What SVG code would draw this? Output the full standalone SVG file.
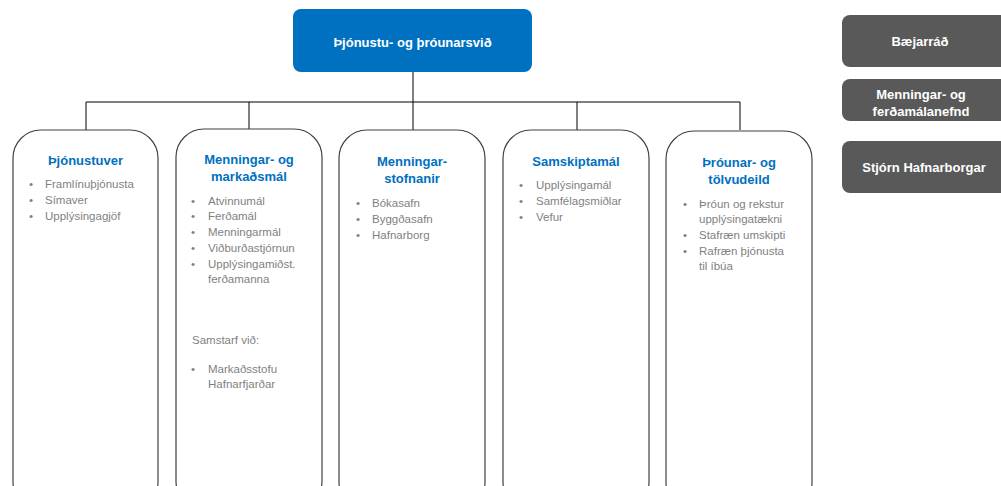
<svg xmlns="http://www.w3.org/2000/svg" width="1001" height="486" viewBox="0 0 1001 486">
<style>
.unit{fill:#fff;stroke:#404040;stroke-width:1.2}
.title{font-family:"Liberation Sans",Arial,sans-serif;font-weight:bold;font-size:13px;fill:#0070C0;text-anchor:middle}
.item{font-family:"Liberation Sans",Arial,sans-serif;font-size:11.5px;fill:#7f7f7f}
.side{fill:#595959}
.wt{font-family:"Liberation Sans",Arial,sans-serif;font-weight:bold;font-size:13px;fill:#fff;text-anchor:middle}
.conn{stroke:#000;stroke-width:1;fill:none}
</style>
<rect width="1001" height="486" fill="#fff"/>
<g id="connectors">
<path class="conn" d="M413 72V102M86 102H740M86 102V130M249 102V129M413 102V130M577 102V130M740 102V130"/>
</g>
<g id="top">
<rect x="293" y="9" width="239" height="63" rx="8" fill="#0070C0"/>
<text class="wt" x="412.5" y="47" font-size="14.5">Þjónustu-  og þróunarsvið</text>
</g>
<g id="u1">
<rect class="unit" x="13" y="130" width="145" height="380" rx="28"/>
<text class="title" x="85.5" y="165">Þjónustuver</text>
<g class="item"><text x="29" y="188">•</text><text x="45" y="188">Framlínuþjónusta</text>
<text x="29" y="204">•</text><text x="45" y="204">Símaver</text>
<text x="29" y="220">•</text><text x="45" y="220">Upplýsingagjöf</text></g>
</g>
<g id="u2">
<rect class="unit" x="176" y="129" width="146" height="380" rx="28"/>
<text class="title" x="249" y="164">Menningar- og</text>
<text class="title" x="249" y="181">markaðsmál</text>
<g class="item"><text x="191" y="205">•</text><text x="208" y="205">Atvinnumál</text>
<text x="191" y="220">•</text><text x="208" y="220">Ferðamál</text>
<text x="191" y="236">•</text><text x="208" y="236">Menningarmál</text>
<text x="191" y="252">•</text><text x="208" y="252">Viðburðastjórnun</text>
<text x="191" y="268">•</text><text x="208" y="268">Upplýsingamiðst.</text>
<text x="208" y="283">ferðamanna</text>
<text x="192" y="344">Samstarf við:</text>
<text x="191" y="373">•</text><text x="208" y="373">Markaðsstofu</text>
<text x="208" y="388">Hafnarfjarðar</text></g>
</g>
<g id="u3">
<rect class="unit" x="339" y="130" width="146" height="380" rx="28"/>
<text class="title" x="412" y="166">Menningar-</text>
<text class="title" x="412" y="183">stofnanir</text>
<g class="item"><text x="356" y="207">•</text><text x="372" y="207">Bókasafn</text>
<text x="356" y="223">•</text><text x="372" y="223">Byggðasafn</text>
<text x="356" y="239">•</text><text x="372" y="239">Hafnarborg</text></g>
</g>
<g id="u4">
<rect class="unit" x="503" y="130" width="146" height="380" rx="28"/>
<text class="title" x="576" y="166">Samskiptamál</text>
<g class="item"><text x="519" y="189">•</text><text x="536" y="189">Upplýsingamál</text>
<text x="519" y="205">•</text><text x="536" y="205">Samfélagsmiðlar</text>
<text x="519" y="221">•</text><text x="536" y="221">Vefur</text></g>
</g>
<g id="u5">
<rect class="unit" x="666" y="131" width="146" height="380" rx="28"/>
<text class="title" x="739" y="167">Þróunar- og</text>
<text class="title" x="739" y="184">tölvudeild</text>
<g class="item"><text x="683" y="208">•</text><text x="699" y="208">Þróun og rekstur</text>
<text x="699" y="223">upplýsingatækni</text>
<text x="683" y="239">•</text><text x="699" y="239">Stafræn umskipti</text>
<text x="683" y="255">•</text><text x="699" y="255">Rafræn þjónusta</text>
<text x="699" y="270">til íbúa</text></g>
</g>
<g id="s1">
<rect class="side" x="842" y="15" width="170" height="52" rx="8"/>
<text class="wt" x="920" y="46">Bæjarráð</text>
</g>
<g id="s2">
<rect class="side" x="842" y="79" width="170" height="42" rx="8"/>
<text class="wt" x="921" y="99">Menningar- og</text>
<text class="wt" x="921" y="116">ferðamálanefnd</text>
</g>
<g id="s3">
<rect class="side" x="842" y="141" width="170" height="52" rx="8"/>
<text class="wt" x="924" y="172">Stjórn Hafnarborgar</text>
</g>
</svg>
